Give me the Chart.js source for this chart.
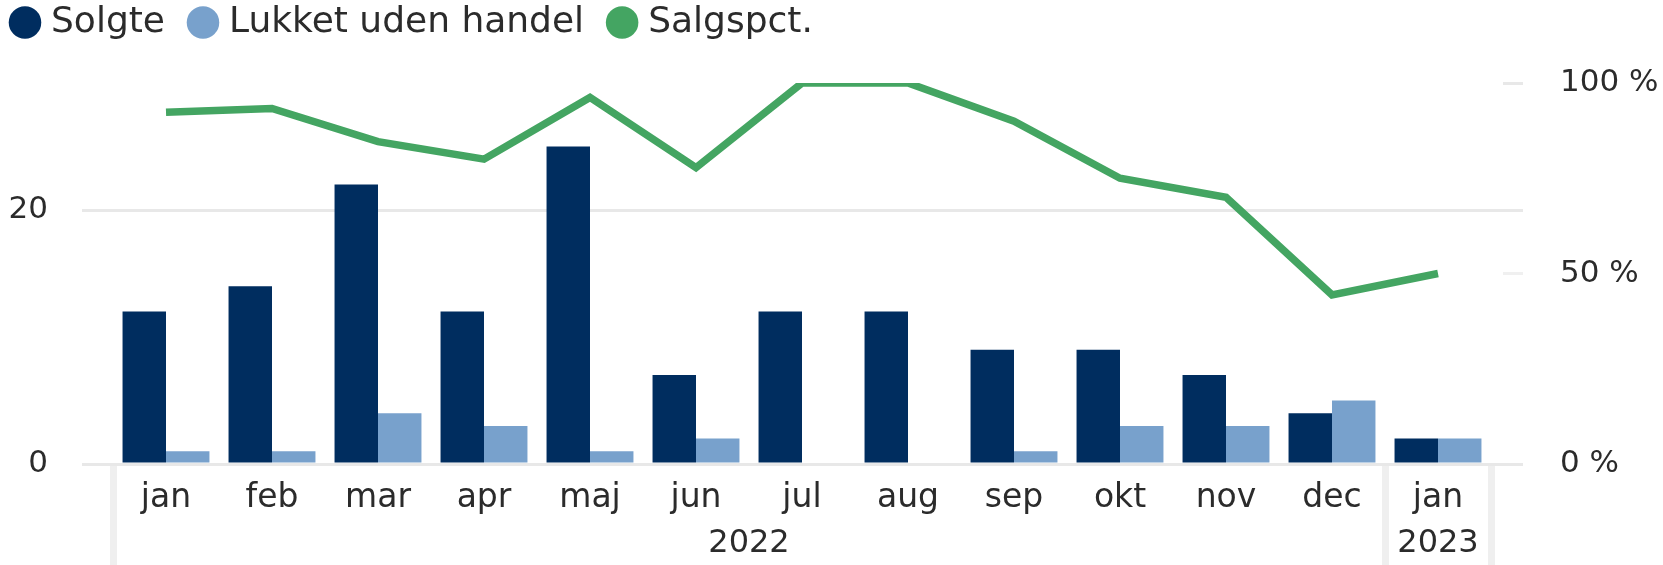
<!DOCTYPE html>
<html><head><meta charset="utf-8">
<script src="https://cdn.jsdelivr.net/npm/chart.js@4/dist/chart.umd.min.js"></script>
<style>html,body{margin:0;padding:0;background:#fff;overflow:hidden}</style>
</head><body>
<canvas id="c" width="1663" height="565"></canvas>
<script>
const months = ['jan','feb','mar','apr','maj','jun','jul','aug','sep','okt','nov','dec','jan'];
const years = ['2022','2023'];
const monthsPerYear = [12, 1];
const solgte = [12,14,22,12,25,7,12,12,9,9,7,4,2];
const lukket = [1,1,4,3,1,2,0,0,1,3,3,5,2];
const salgspct = [92.3,93.3,84.6,80.0,96.2,77.8,100,100,90.0,75.0,70.0,44.4,50.0];
const leftTicks = [0, 20];
const leftMax = 30;
const rightTicks = [0, 50, 100];
const rightMax = 100;

const textColor = '#2b2b2b';
const gridColor = '#E8E8E8';

// year label positions (centre of each year group) and group boundaries
const yearPos = [];
const boundaries = [0];
let start = 0;
monthsPerYear.forEach(n => { yearPos.push(start + (n - 1) / 2); start += n; boundaries.push(start); });
// right-axis extra ticks that continue the left gridlines to the right
const rightExtra = leftTicks.map(v => v / leftMax * rightMax).filter(v => !rightTicks.includes(v));

Chart.defaults.font.family = "'DejaVu Sans', sans-serif";
Chart.defaults.color = textColor;

new Chart(document.getElementById('c'), {
  data: {
    labels: months,
    datasets: [
      { type: 'bar', label: 'Solgte', data: solgte, backgroundColor: '#002D5F', borderWidth: 0,
        xAxisID: 'x', yAxisID: 'y', order: 1, categoryPercentage: 0.82, barPercentage: 1 },
      { type: 'bar', label: 'Lukket uden handel', data: lukket, backgroundColor: '#78A1CC', borderWidth: 0,
        xAxisID: 'x', yAxisID: 'y', order: 1, categoryPercentage: 0.82, barPercentage: 1 },
      { type: 'line', label: 'Salgspct.', data: salgspct, borderColor: '#44A562', backgroundColor: '#44A562',
        borderWidth: 7.5, pointRadius: 0, pointBorderWidth: 0, tension: 0,
        xAxisID: 'x', yAxisID: 'y1', order: 0 }
    ]
  },
  options: {
    responsive: false,
    devicePixelRatio: 1,
    animation: false,
    layout: { padding: { top: -25.5, left: -13, right: 0, bottom: 0 } },
    plugins: {
      tooltip: { enabled: false },
      title: { display: false },
      subtitle: { display: true, text: '', weight: 500, position: 'top',
        font: { size: 10, lineHeight: 1 }, padding: { top: 0, bottom: 22.5 } },
      legend: {
        display: true, position: 'top', align: 'start',
        labels: {
          usePointStyle: true, pointStyle: 'circle', boxWidth: 16, boxHeight: 23,
          padding: 30, color: textColor, font: { size: 36 },
          sort: (a, b) => a.datasetIndex - b.datasetIndex
        }
      }
    },
    scales: {
      x: {
        type: 'category', position: 'bottom', weight: 0,
        offset: true,
        border: { display: false },
        grid: {
          offset: true, drawOnChartArea: false, drawTicks: true, tickLength: 101, tickWidth: 7,
          tickColor: c => {
            const i = (c.index === undefined) ? months.length : c.index;
            return boundaries.includes(i) ? '#EFEFEF' : 'rgba(0,0,0,0)';
          }
        },
        ticks: { autoSkip: false, maxRotation: 0, minRotation: 0, padding: -86,
          color: textColor, font: { size: 33 } },
        afterFit: s => { s.height = 55; }
      },
      x2: {
        type: 'linear', position: 'bottom', weight: 1,
        min: -0.5, max: months.length - 0.5,
        border: { display: false },
        grid: { display: false },
        afterBuildTicks: s => { s.ticks = yearPos.map(v => ({ value: v })); },
        ticks: { autoSkip: false, maxRotation: 0, minRotation: 0, padding: -2.2,
          color: textColor, font: { size: 32 },
          callback: (v) => { const k = yearPos.indexOf(v); return k >= 0 ? years[k] : ''; } },
        afterFit: s => { s.height = 46; }
      },
      y: {
        type: 'linear', position: 'left', min: 0, max: leftMax,
        border: { display: false },
        grid: { color: gridColor, lineWidth: 3, tickLength: 31, tickColor: gridColor, tickWidth: 3 },
        afterBuildTicks: s => { s.ticks = leftTicks.map(v => ({ value: v })); },
        ticks: { padding: 34, color: textColor, font: { size: 31 } },
        afterFit: s => { s.width = 126; }
      },
      y1: {
        type: 'linear', position: 'right', min: 0, max: rightMax,
        border: { display: false },
        grid: {
          drawOnChartArea: false, tickLength: 32, tickWidth: 3,
          tickColor: c => (c.tick && c.tick.value === 50) ? '#F0F0F0' : gridColor,
          tickBorderDash: c => (c.tick && rightTicks.includes(c.tick.value) && c.tick.value !== 0) ? [0, 12, 20, 200] : []
        },
        afterBuildTicks: s => { s.ticks = rightTicks.concat(rightExtra).map(v => ({ value: v })); },
        ticks: { padding: 37, color: textColor, font: { size: 31 },
          callback: v => rightTicks.includes(v) ? v + ' %' : '' },
        afterFit: s => { s.width = 172; }
      }
    }
  }
});
</script>
</body></html>
